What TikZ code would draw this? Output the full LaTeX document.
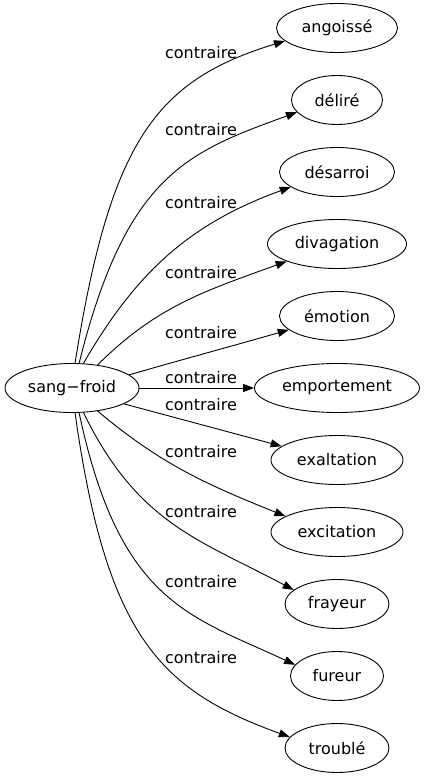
\documentclass[tikz,border=0pt]{standalone}
\usepackage{fontspec}
\setmainfont{DejaVu Sans}
\usetikzlibrary{positioning, shapes.geometric, arrows.meta}
\tikzset{
->, % every edge is directed
>={Triangle[length=11pt, width=8pt]}, % plain filled heads
node distance=72pt, % centre to centre of the words on the right
every node/.style={font=\fontsize{16}{19}\selectfont}, % one size for all texts
word/.style={ellipse, draw, minimum height=49pt, inner sep=0pt}, % the ellipses
rel/.style={inner sep=1pt}, % the edge labels
}
\begin{document}
\begin{tikzpicture}[x=1pt, y=1pt, line width=0.9pt]
            \useasboundingbox (0,0) rectangle (426,-779);
            \node[word, minimum width=134pt] (sf) at (72,-388) {sang−froid};
            \node[word, minimum width=165pt] (emp) at (337,-388) {emportement};
            \node[word, minimum width=115pt, above of=emp] (emo) {émotion};
            \node[word, minimum width=139pt, above of=emo] (div) {divagation};
            \node[word, minimum width=115pt, above of=div] (des) {désarroi};
            \node[word, minimum width=91pt, above of=des] (del) {déliré};
            \node[word, minimum width=121pt, above of=del] (ang) {angoissé};
            \node[word, minimum width=132pt, below of=emp] (exa) {exaltation};
            \node[word, minimum width=132pt, below of=exa] (exc) {excitation};
            \node[word, minimum width=104pt, below of=exc] (fra) {frayeur};
            \node[word, minimum width=93pt, below of=fra] (fur) {fureur};
            \node[word, minimum width=104pt, below of=fur] (tro) {troublé};
            \node[rel] (l-ang) at (201,-53) {contraire};
            \node[rel] (l-del) at (201,-130) {contraire};
            \node[rel] (l-des) at (201,-203) {contraire};
            \node[rel] (l-div) at (201,-273) {contraire};
            \node[rel] (l-emo) at (201,-333) {contraire};
            \node[rel] (l-emp) at (201,-378) {contraire};
            \node[rel] (l-exa) at (201,-405) {contraire};
            \node[rel] (l-exc) at (201,-452) {contraire};
            \node[rel] (l-fra) at (201,-512) {contraire};
            \node[rel] (l-fur) at (201,-582) {contraire};
            \node[rel] (l-tro) at (201,-658) {contraire};
            \path
                (sf.83) edge[out=81, in=197, out looseness=1.5, in looseness=0.9] (ang.194)
                (sf.74) edge[out=76, in=200, out looseness=1.5, in looseness=0.9] (del.197)
                (sf.65) edge[out=60, in=200] (des.198)
                (sf.42) edge[out=45, in=200] (div.199)
                (sf.13) edge[out=16, in=196] (emo.196)
                (sf) edge (emp)
                (sf.-17) edge[out=-15, in=165] (exa.166)
                (sf.-42) edge[out=-40, in=158] (exc.163)
                (sf.-65) edge[out=-64, in=152, out looseness=1.15] (fra.162)
                (sf.-74) edge[out=-78, in=155, out looseness=1.5, in looseness=0.9] (fur.165)
                (sf.-83) edge[out=-82, in=160, out looseness=1.5, in looseness=0.9] (tro.167)
                ;
\end{tikzpicture}
\end{document}
